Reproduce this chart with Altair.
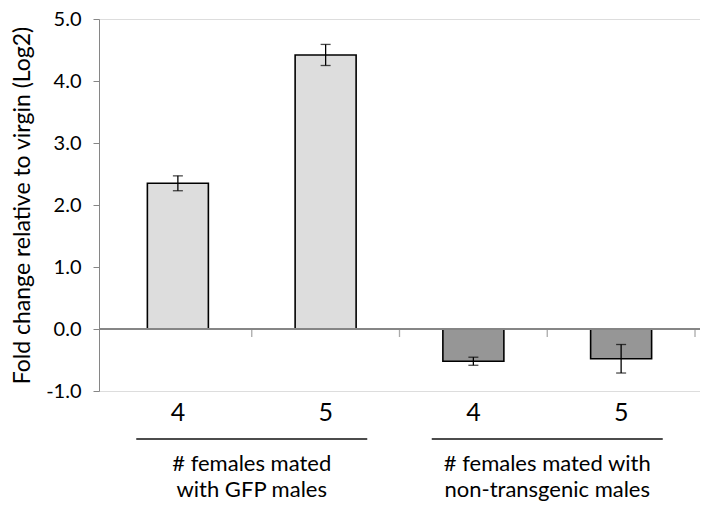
import altair as alt
import pandas as pd

# ---- data ----
groups = ["GFP", "GFP", "Non-transgenic", "Non-transgenic"]
counts = ["4", "5", "4", "5"]
values = [2.35, 4.42, -0.52, -0.48]
errors = [0.12, 0.17, 0.065, 0.23]
group_names = ["GFP", "Non-transgenic"]
group_labels = ["# females mated\nwith GFP males",
                "# females mated with\nnon-transgenic males"]
y_ticks = [-1, 0, 1, 2, 3, 4, 5]

FONT = "Lato"
W, H = 601, 372

bars_df = pd.DataFrame({
    "group": groups,
    "count": counts,
    "value": values,
    "err": errors,
    "pos": [i + 0.5 for i in range(len(values))],
})
bars_df["lo"] = bars_df["value"] - bars_df["err"]
bars_df["hi"] = bars_df["value"] + bars_df["err"]

grp_df = pd.DataFrame({
    "group": group_names,
    "label": group_labels,
    "pos": [1.0, 3.0],
})
bound_df = pd.DataFrame({"b": [1.0, 2.0, 3.0, 4.0]})

xs = alt.Scale(domain=[0, 4], nice=False, zero=False)
ys = alt.Scale(domain=[-1, 5], nice=False, zero=False)

base = alt.Chart(bars_df)

bars = base.mark_bar(size=61, stroke="black", strokeWidth=1.6).encode(
    x=alt.X("pos:Q", scale=xs, axis=None),
    y=alt.Y("value:Q", scale=ys,
            axis=alt.Axis(values=y_ticks, grid=False,
                          labelExpr="(datum.value < 0 ? '-' : '') + format(abs(datum.value), '.1f')",
                          domainColor="#868686", tickColor="#868686",
                          tickSize=6, labelFontSize=20, labelFont=FONT,
                          labelColor="black", labelPadding=12,
                          title="Fold change relative to virgin (Log2)",
                          titleFont=FONT, titleFontSize=23,
                          titleFontWeight="normal", titleColor="black",
                          titleX=-77, titleY=H / 2, titleAngle=-90,
                          titleAlign="center", titleBaseline="middle")),
    y2=alt.datum(0),
    color=alt.Color("group:N",
                    scale=alt.Scale(domain=group_names,
                                    range=["#DDDDDD", "#969696"]),
                    legend=None),
)

zero = alt.Chart(bars_df).mark_rule(color="#868686", strokeWidth=1.3).encode(
    y=alt.datum(0, scale=ys)
)

ticks = alt.Chart(bound_df).mark_tick(
    orient="vertical", size=8, yOffset=4, thickness=1.3, color="#868686"
).encode(x=alt.X("b:Q", scale=xs), y=alt.datum(0, scale=ys))

err_rule = base.mark_rule(color="black", strokeWidth=1.3).encode(
    x=alt.X("pos:Q", scale=xs), y=alt.Y("lo:Q", scale=ys), y2="hi:Q"
)
cap_lo = base.mark_tick(orient="horizontal", size=10, thickness=1.3,
                        color="black").encode(
    x=alt.X("pos:Q", scale=xs), y=alt.Y("lo:Q", scale=ys))
cap_hi = base.mark_tick(orient="horizontal", size=10, thickness=1.3,
                        color="black").encode(
    x=alt.X("pos:Q", scale=xs), y=alt.Y("hi:Q", scale=ys))

count_lbl = base.mark_text(font=FONT, fontSize=25, color="black",
                           baseline="middle").encode(
    x=alt.X("pos:Q", scale=xs), y=alt.value(H + 22), text="count:N")

grp_rule = alt.Chart(grp_df).mark_tick(orient="horizontal", size=231,
                                       thickness=2, color="black").encode(
    x=alt.X("pos:Q", scale=xs), y=alt.value(H + 48))

grp_txt = alt.Chart(grp_df).mark_text(font=FONT, fontSize=22, color="black",
                                      baseline="top", lineBreak="\n",
                                      lineHeight=26).encode(
    x=alt.X("pos:Q", scale=xs), y=alt.value(H + 63), text="label:N")

chart = alt.layer(
    bars, zero, ticks, err_rule, cap_lo, cap_hi,
    count_lbl, grp_rule, grp_txt
).properties(
    width=W, height=H,
    autosize=alt.AutoSizeParams(type="none"),
    padding={"left": 91, "top": 11, "right": 0, "bottom": 111},
).configure_view(stroke=None).configure(background="white")

chart.save("out.html", embed_options={"renderer": "svg", "actions": False})
